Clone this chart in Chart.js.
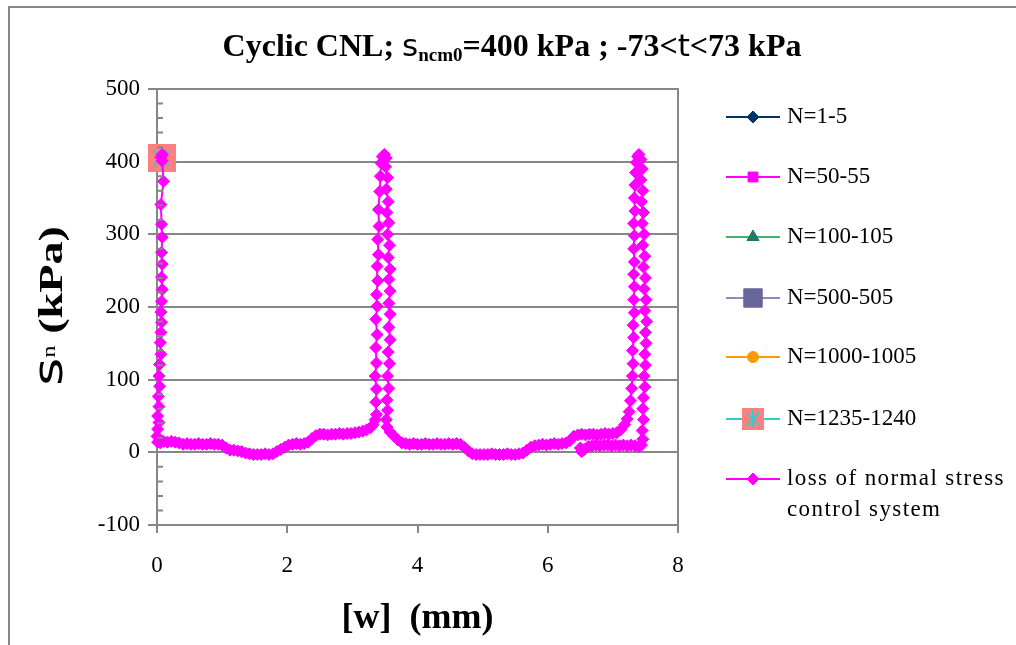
<!DOCTYPE html>
<html>
<head>
<meta charset="utf-8">
<script src="https://cdn.jsdelivr.net/npm/chart.js@4"></script>
<style>
  html, body { margin: 0; padding: 0; background: #fff; }
  canvas { display: block; }
</style>
</head>
<body>
<canvas id="cnl" width="1016" height="645"></canvas>
<script>
// cycle groups, each logged as a single reading at the start of the test
const groupLabels = ['N=1-5', 'N=50-55', 'N=100-105', 'N=500-505', 'N=1000-1005', 'N=1235-1240'];
const groupW = [0.07, 0.07, 0.07, 0.07, 0.07, 0.07];
const groupSn = [405, 405, 405, 405, 405, 405];

// trace recorded after the normal stress control dropped out: [w (mm), sn (kPa)]
const lossLabel = ['loss of normal stress', 'control system'];
const lossPath = [
  [0.08, 410], [0.06, 406], [0.08, 401], [0.10, 373], [0.06, 341], [0.07, 314], [0.08, 296],
  [0.07, 275], [0.08, 259], [0.07, 241], [0.08, 224], [0.07, 208], [0.06, 193], [0.07, 179],
  [0.06, 165], [0.05, 151], [0.06, 135], [0.04, 121], [0.03, 105], [0.04, 91], [0.02, 77],
  [0.03, 63], [0.01, 50], [0.03, 41], [0.01, 32], [0.00, 22], [0.01, 14], [0.05, 13],
  [0.10, 15], [0.16, 14], [0.22, 15], [0.28, 14], [0.34, 13], [0.40, 11], [0.46, 12],
  [0.52, 11], [0.58, 11], [0.64, 12], [0.70, 11], [0.76, 11], [0.82, 12], [0.88, 11],
  [0.94, 11], [1.00, 10], [1.06, 6], [1.12, 3], [1.18, 3], [1.24, 2], [1.30, 1],
  [1.36, -1], [1.42, -2], [1.48, -3], [1.54, -3], [1.60, -3], [1.66, -2], [1.72, -3],
  [1.78, -2], [1.84, 1], [1.90, 4], [1.96, 7], [2.02, 10], [2.08, 11], [2.14, 12],
  [2.20, 11], [2.26, 12], [2.32, 14], [2.38, 19], [2.44, 23], [2.50, 25], [2.56, 25],
  [2.62, 24], [2.68, 25], [2.74, 25], [2.80, 26], [2.86, 25], [2.92, 26], [2.98, 26],
  [3.04, 27], [3.10, 28], [3.16, 29], [3.22, 31], [3.28, 34], [3.32, 38], [3.35, 45],
  // second reversal, up then down
  [3.37, 52], [3.36, 69], [3.37, 87], [3.35, 105], [3.37, 123], [3.36, 144], [3.38, 162],
  [3.36, 183], [3.38, 201], [3.37, 217], [3.39, 236], [3.38, 256], [3.40, 272], [3.39, 293],
  [3.41, 311], [3.40, 334], [3.42, 359], [3.43, 380], [3.44, 398], [3.46, 407], [3.49, 410],
  [3.52, 405], [3.51, 393], [3.54, 378], [3.52, 362], [3.55, 345], [3.53, 330], [3.56, 316],
  [3.54, 300], [3.57, 285], [3.55, 268], [3.58, 252], [3.56, 238], [3.58, 222], [3.56, 205],
  [3.58, 190], [3.56, 172], [3.58, 155], [3.55, 138], [3.57, 122], [3.54, 105], [3.56, 88],
  [3.53, 72], [3.54, 58], [3.52, 45], [3.53, 35], [3.58, 28], [3.64, 22], [3.70, 17],
  [3.76, 13], [3.82, 12], [3.88, 11], [3.94, 12], [4.00, 11], [4.06, 11], [4.12, 12],
  [4.18, 11], [4.24, 11], [4.30, 12], [4.36, 11], [4.42, 11], [4.48, 12], [4.54, 11],
  [4.60, 12], [4.66, 11], [4.72, 7], [4.78, 2], [4.84, -2], [4.90, -3], [4.96, -3],
  [5.02, -3], [5.08, -3], [5.14, -2], [5.20, -3], [5.26, -3], [5.32, -3], [5.38, -2],
  [5.44, -3], [5.50, -3], [5.56, -2], [5.62, -1], [5.68, 3], [5.74, 7], [5.80, 9],
  [5.86, 10], [5.92, 11], [5.98, 10], [6.04, 11], [6.10, 12], [6.16, 11], [6.22, 12],
  [6.28, 13], [6.34, 16], [6.40, 22], [6.46, 24], [6.52, 25], [6.58, 24], [6.64, 25],
  [6.70, 25], [6.76, 24], [6.82, 25], [6.88, 26], [6.94, 25], [7.00, 26], [7.06, 27],
  [7.12, 31], [7.18, 38], [7.22, 46],
  // third reversal
  [7.25, 56], [7.27, 71], [7.29, 88], [7.30, 105], [7.31, 122], [7.30, 140], [7.32, 158],
  [7.31, 175], [7.33, 192], [7.32, 210], [7.33, 228], [7.32, 245], [7.33, 262], [7.32, 280],
  [7.33, 298], [7.32, 315], [7.34, 332], [7.33, 350], [7.34, 368], [7.35, 385], [7.36, 399],
  [7.38, 407], [7.40, 410], [7.43, 403], [7.45, 390], [7.43, 375], [7.46, 360], [7.44, 345],
  [7.47, 330], [7.45, 315], [7.48, 300], [7.46, 285], [7.49, 270], [7.47, 255], [7.50, 240],
  [7.48, 225], [7.51, 210], [7.49, 195], [7.52, 180], [7.50, 165], [7.51, 150], [7.49, 135],
  [7.50, 120], [7.48, 105], [7.49, 90], [7.47, 75], [7.46, 60], [7.47, 45], [7.45, 30],
  [7.46, 18], [7.44, 10], [7.40, 8], [7.34, 9], [7.28, 10], [7.22, 9], [7.16, 10],
  [7.10, 9], [7.04, 10], [6.98, 9], [6.92, 10], [6.86, 10], [6.80, 9], [6.74, 10],
  [6.68, 9], [6.62, 8], [6.56, 4], [6.52, 1], [6.50, 6]
];

const xRange = [0, 8, 2];
const yRange = [-100, 500, 100];
const yMinorStep = 20;

const SERIF = '"Liberation Serif", "Times New Roman", serif';
const SANS = '"DejaVu Sans", sans-serif';
const GRAY = '#878787';

// marker look per cycle group: line colour, fill, style, radius
const groupStyles = [
  { line: '#003366', fill: '#003366', shape: 'rectRot', r: 6 },
  { line: '#FF00FF', fill: '#FF00FF', shape: 'rect', r: 7 },
  { line: '#3CB371', fill: '#1E7B62', shape: 'triangle', r: 7 },
  { line: '#8C8CB8', fill: '#666699', shape: 'rect', r: 13 },
  { line: '#FF9900', fill: '#FF9900', shape: 'circle', r: 5.5 },
  { line: '#33CCCC', fill: '#FF8080', shape: 'boxStar', r: 14 }
];

// salmon box with a cyan asterisk on top
function boxStar(size, arm) {
  const c = document.createElement('canvas');
  c.width = size; c.height = size;
  const g = c.getContext('2d');
  g.fillStyle = '#FF8080';
  g.fillRect(0, 0, size, size);
  g.strokeStyle = '#33CCCC';
  g.lineWidth = 2;
  const m = size / 2, d = arm * Math.SQRT1_2;
  g.beginPath();
  g.moveTo(m, m - arm); g.lineTo(m, m + arm);
  g.moveTo(m - d, m - d); g.lineTo(m + d, m + d);
  g.moveTo(m - d, m + d); g.lineTo(m + d, m - d);
  g.stroke();
  return c;
}
const boxStarPlot = boxStar(28, 11);
const boxStarKey = boxStar(22, 9);

const datasets = groupLabels.map((label, i) => {
  const st = groupStyles[i];
  return {
    label: label,
    data: [{ x: groupW[i], y: groupSn[i] }],
    borderColor: st.line,
    backgroundColor: st.fill,
    pointBackgroundColor: st.fill,
    pointBorderColor: st.fill,
    pointStyle: st.shape === 'boxStar' ? boxStarPlot : st.shape,
    pointRadius: st.r,
    showLine: false,
    clip: false,
    order: groupLabels.length - i
  };
});
datasets.push({
  label: lossLabel.join(' '),
  data: lossPath.map(p => ({ x: p[0], y: p[1] })),
  borderColor: '#FF00FF',
  backgroundColor: '#FF00FF',
  pointBackgroundColor: '#FF00FF',
  pointBorderColor: '#FF00FF',
  pointBorderWidth: 1,
  pointStyle: 'rectRot',
  pointRadius: 6,
  borderWidth: 2,
  showLine: true,
  tension: 0,
  clip: false,
  order: 0
});

// draw a run of text pieces with their own fonts and baseline shifts
function runsWidth(ctx, runs) {
  let w = 0;
  runs.forEach(r => { ctx.font = r.font; w += ctx.measureText(r.text).width; });
  return w;
}
function drawRuns(ctx, runs, x, y) {
  runs.forEach(r => {
    ctx.font = r.font;
    ctx.fillText(r.text, x, y + (r.dy || 0));
    x += ctx.measureText(r.text).width;
  });
}

const titleRuns = [
  { text: 'Cyclic CNL; ', font: 'bold 32px ' + SERIF },
  { text: 's', font: '31px ' + SANS },
  { text: 'ncm0', font: 'bold 19px ' + SERIF, dy: 5 },
  { text: '=400 kPa ; -73<', font: 'bold 32px ' + SERIF },
  { text: 't', font: '31px ' + SANS },
  { text: '<73 kPa', font: 'bold 32px ' + SERIF }
];
const yTitleRuns = [
  { text: 's', font: '40px ' + SANS },
  { text: 'n', font: '18px ' + SERIF, dy: -7 },
  { text: ' (kPa)', font: 'bold 34px ' + SERIF }
];
const yTitleStretch = 1.36;
const xTitleRuns = [{ text: '[w]  (mm)', font: 'bold 36px ' + SERIF }];

const decor = {
  id: 'decor',
  beforeDraw(chart) {
    const ctx = chart.ctx;
    ctx.save();
    ctx.fillStyle = '#fff';
    ctx.fillRect(0, 0, chart.width, chart.height);
    ctx.strokeStyle = GRAY;
    ctx.lineWidth = 2;
    ctx.beginPath();
    ctx.moveTo(9, chart.height);
    ctx.lineTo(9, 7);
    ctx.lineTo(chart.width, 7);
    ctx.stroke();
    ctx.restore();
  },
  afterDraw(chart) {
    const ctx = chart.ctx;
    const area = chart.chartArea;
    const ys = chart.scales.y;
    ctx.save();

    // right edge of the plot frame and minor ticks on the value axis
    ctx.strokeStyle = GRAY;
    ctx.lineWidth = 2;
    ctx.beginPath();
    ctx.moveTo(area.right, area.top - 1);
    ctx.lineTo(area.right, area.bottom + 1);
    for (let v = yRange[0]; v <= yRange[1]; v += yMinorStep) {
      if (v % yRange[2] === 0) continue;
      const py = ys.getPixelForValue(v);
      ctx.moveTo(area.left, py);
      ctx.lineTo(area.left + 6, py);
    }
    ctx.stroke();

    ctx.fillStyle = '#000';
    ctx.textBaseline = 'alphabetic';
    ctx.textAlign = 'left';

    const tw = runsWidth(ctx, titleRuns);
    drawRuns(ctx, titleRuns, 512 - tw / 2, 56);

    const xw = runsWidth(ctx, xTitleRuns);
    drawRuns(ctx, xTitleRuns, (area.left + area.right) / 2 - xw / 2, 628);

    const yw = runsWidth(ctx, yTitleRuns);
    ctx.save();
    ctx.translate(62, 306);
    ctx.rotate(-Math.PI / 2);
    ctx.scale(yTitleStretch, 1);
    drawRuns(ctx, yTitleRuns, -yw / 2, 0);
    ctx.restore();

    // legend: line stub, marker, label
    const keyY = [117, 177, 237, 298, 357, 419, 479];
    const h = Chart.helpers;
    ctx.textBaseline = 'middle';
    chart.data.datasets.forEach((ds, i) => {
      const y = keyY[i];
      ctx.strokeStyle = ds.borderColor;
      ctx.lineWidth = 2;
      ctx.beginPath();
      ctx.moveTo(726, y);
      ctx.lineTo(780, y);
      ctx.stroke();
      if (i < groupLabels.length && groupStyles[i].shape === 'boxStar') {
        ctx.drawImage(boxStarKey, 753 - 11, y - 11);
      } else {
        ctx.fillStyle = ds.pointBackgroundColor;
        ctx.strokeStyle = ds.pointBorderColor;
        ctx.lineWidth = 1;
        h.drawPoint(ctx, { pointStyle: ds.pointStyle, radius: ds.pointRadius, borderWidth: 1, rotation: 0 }, 753, y);
      }
      ctx.fillStyle = '#000';
      ctx.font = '23px ' + SERIF;
      if (i < groupLabels.length) {
        ctx.fillText(groupLabels[i], 787, y);
      } else {
        ctx.letterSpacing = '1.4px';
        lossLabel.forEach((line, k) => ctx.fillText(line, 787, y + k * 31));
        ctx.letterSpacing = '0px';
      }
    });
    ctx.restore();
  }
};

new Chart(document.getElementById('cnl'), {
  type: 'scatter',
  data: { datasets: datasets },
  options: {
    responsive: false,
    animation: false,
    events: [],
    layout: { padding: { left: 97, top: 89, right: 338, bottom: 60 } },
    plugins: {
      legend: { display: false },
      tooltip: { enabled: false },
      title: { display: false }
    },
    scales: {
      x: {
        type: 'linear',
        min: xRange[0],
        max: xRange[1],
        ticks: { stepSize: xRange[2], color: '#000', font: { family: SERIF, size: 23 }, padding: 19 },
        grid: { drawOnChartArea: false, drawTicks: true, tickLength: 8, color: GRAY, lineWidth: 2 },
        border: { color: GRAY, width: 2 },
        afterFit(scale) { scale.height = 60; }
      },
      y: {
        type: 'linear',
        min: yRange[0],
        max: yRange[1],
        ticks: { stepSize: yRange[2], color: '#000', font: { family: SERIF, size: 23 }, padding: 8 },
        grid: { color: GRAY, lineWidth: 2, tickLength: 9 },
        border: { color: GRAY, width: 2 },
        afterFit(scale) { scale.width = 60; }
      }
    }
  },
  plugins: [decor]
});
</script>
</body>
</html>
